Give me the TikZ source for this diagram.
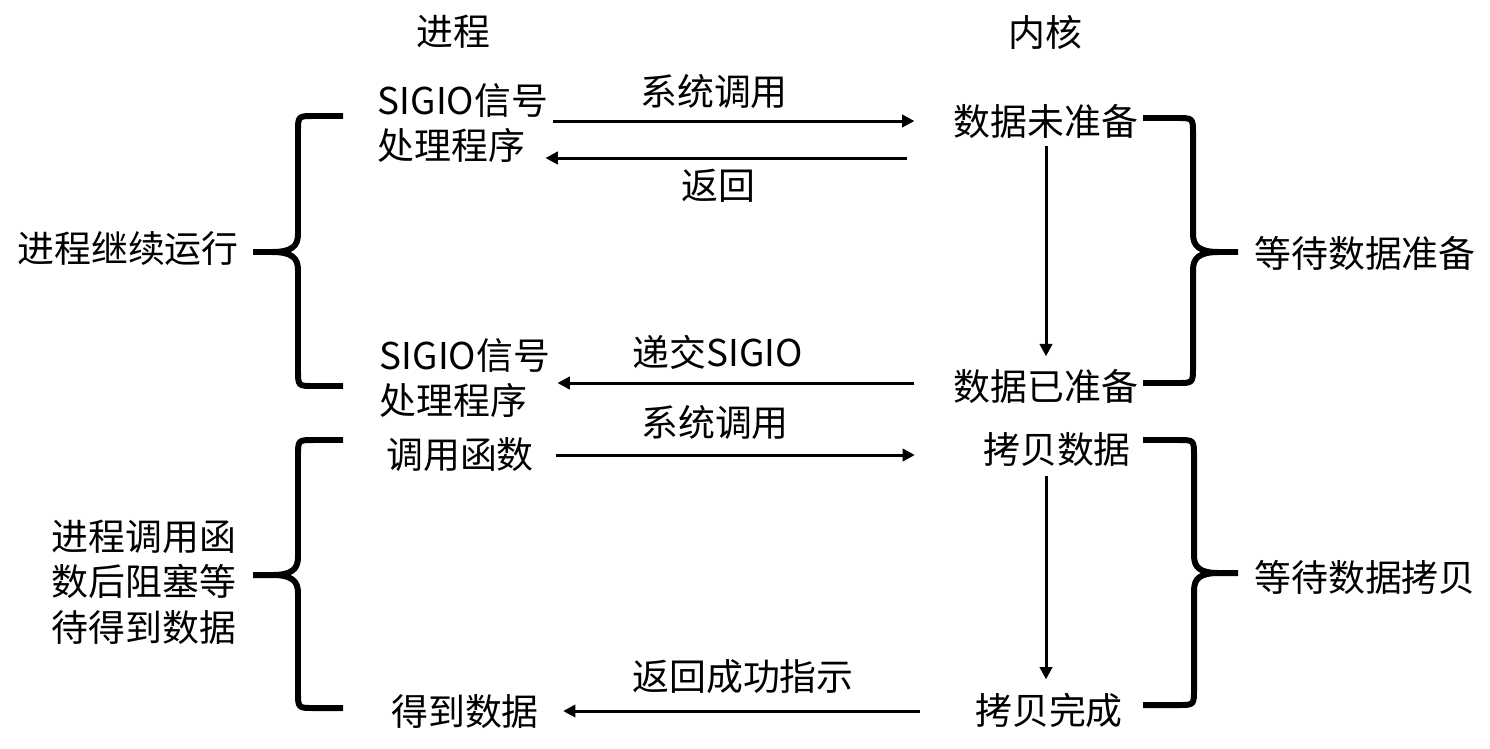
\documentclass[tikz,border=0pt]{standalone}
\usepackage{fontspec}
\setmainfont{Noto Sans CJK SC}
\usepackage{tikz}
\usetikzlibrary{arrows.meta,calc}

\begin{document}
\begin{tikzpicture}[x=0.02cm, y=-0.02cm,
  txt/.style={inner sep=0pt, font=\fontsize{21}{26}\selectfont, align=left},
  arr/.style={->, line width=1.7pt},
  brace/.style={line width=3.4pt, line join=round},
  >={Triangle[length=7pt,width=7pt]}]
\useasboundingbox (0,0) rectangle (1490,748);
% column heads
\node[txt] (proc) at (453,32) {进程};
\node[txt] (kern) at (1045,32) {内核};
% process side
\node[txt] (h1) at (463,123) {SIGIO信号\\处理程序};
\node[txt] (h2) at (465,378) {SIGIO信号\\处理程序};
\node[txt] (c1) at (460,455) {调用函数};
\node[txt] (g1) at (465,712) {得到数据};
% kernel side
\node[txt] (k1) at (1046,121) {数据未准备};
\node[txt] (k2) at (1046,386) {数据已准备};
\node[txt] (k3) at (1057,450) {拷贝数据};
\node[txt] (k4) at (1049,710) {拷贝完成};
% arrow labels
\node[txt] (l1) at (714,91) {系统调用};
\node[txt] (l2) at (718,186) {返回};
\node[txt] (l3) at (718,352) {递交SIGIO};
\node[txt] (l4) at (715,422) {系统调用};
\node[txt] (l5) at (743,677) {返回成功指示};
% side labels
\node[txt] (s1) at (128,249) {进程继续运行};
\node[txt, align=center] (s2) at (144,582) {进程调用函\\数后阻塞等\\待得到数据};
\node[txt] (s3) at (1365,253) {等待数据准备};
\node[txt] (s4) at (1365,577) {等待数据拷贝};
% arrows
\draw[arr] ($(h1.east)+(5,-2)$) -- ($(k1.west)+(-39,0)$);
\draw[arr] ($(k1.west)+(-46,37)$) -- ($(h1.east)+(-3,35)$);
\draw[arr] ($(k2.west)+(-39,-3)$) -- ($(h2.east)+(7,5)$);
\draw[arr] ($(c1.east)+(22,0)$) -- ($(k3.west)+(-68,5)$);
\draw[arr] ($(k4.west)+(-55,1)$) -- ($(g1.east)+(24,-1)$);
\draw[arr, shorten <=4.5pt, shorten >=7pt] (k1.south) -- (k2.north);
\draw[arr, shorten <=5pt, shorten >=7.4pt] (k3.south -| k1) -- (k4.north -| k1);
% braces
\draw[brace] (253,252) -- (272,252) .. controls (292,252) and (298,246) .. (298,234) -- (298,132) .. controls (298,116) .. (314,116) -- (343,116)
  (253,252) -- (272,252) .. controls (292,252) and (298,258) .. (298,270) -- (298,370) .. controls (298,386) .. (314,386) -- (343,386);
\draw[brace] (253,575) -- (272,575) .. controls (292,575) and (298,569) .. (298,557) -- (298,456) .. controls (298,440) .. (314,440) -- (343,440)
  (253,575) -- (272,575) .. controls (292,575) and (298,581) .. (298,593) -- (298,692) .. controls (298,708) .. (314,708) -- (343,708);
\draw[brace] (1238,252) -- (1219,252) .. controls (1199,252) and (1193,246) .. (1193,234) -- (1193,134) .. controls (1193,118) .. (1177,118) -- (1143,118)
  (1238,252) -- (1219,252) .. controls (1199,252) and (1193,258) .. (1193,270) -- (1193,367) .. controls (1193,383) .. (1177,383) -- (1143,383);
\draw[brace] (1238,573) -- (1219,573) .. controls (1199,573) and (1194,567) .. (1194,555) -- (1194,456) .. controls (1194,440) .. (1178,440) -- (1143,440)
  (1238,573) -- (1219,573) .. controls (1199,573) and (1194,579) .. (1194,591) -- (1194,689) .. controls (1194,705) .. (1178,705) -- (1143,705);
\end{tikzpicture}
\end{document}
